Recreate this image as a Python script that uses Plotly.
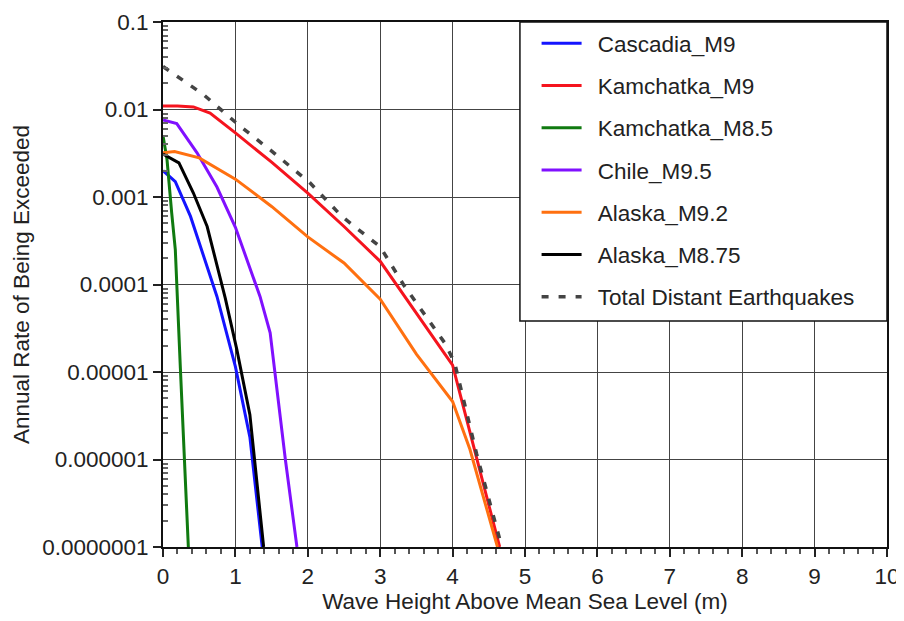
import plotly.graph_objects as go
import numpy as np

# ---- data ----
cascadia_x = [0, 0.17, 0.38, 0.56, 0.745, 1.0, 1.2, 1.37]
cascadia_y = [0.002, 0.0015, 6e-4, 2.1e-4, 7.3e-5, 1.15e-5, 1.8e-6, 1e-7]

kam9_x = [0, 0.2, 0.42, 0.65, 1.0, 1.5, 2.0, 2.5, 3.0, 4.0, 4.65]
kam9_y = [0.011, 0.011, 0.0107, 0.0091, 0.0054, 0.0025, 0.00111, 4.6e-4, 1.84e-4, 1.2e-5, 1e-7]

kam85_x = [0, 0.055, 0.12, 0.17, 0.24, 0.35]
kam85_y = [0.005, 0.0027, 6.6e-4, 2.5e-4, 1.1e-5, 1e-7]

chile_x = [0, 0.19, 0.47, 0.745, 1.0, 1.34, 1.48, 1.69, 1.85]
chile_y = [0.0076, 0.0069, 0.0032, 0.0013, 4.5e-4, 7.3e-5, 2.8e-5, 1e-6, 1e-7]

ak92_x = [0, 0.16, 0.5, 1.0, 1.5, 2.0, 2.5, 3.0, 3.5, 4.0, 4.24, 4.62]
ak92_y = [0.0032, 0.0033, 0.0028, 0.0016, 7.8e-4, 3.5e-4, 1.76e-4, 6.8e-5, 1.6e-5, 4.6e-6, 1.3e-6, 1e-7]

ak875_x = [0, 0.22, 0.42, 0.61, 0.86, 1.02, 1.2, 1.39]
ak875_y = [0.0031, 0.00245, 0.00111, 4.6e-4, 7.0e-5, 1.8e-5, 3.25e-6, 1e-7]

total_x = [0, 0.56, 1.04, 1.53, 2.03, 2.47, 3.0, 3.32, 3.9, 4.03, 4.33, 4.68]
total_y = [0.031, 0.0148, 0.0067, 0.0032, 0.00145, 6e-4, 2.7e-4, 1e-4, 2.1e-5, 1.26e-5, 1.17e-6, 1e-7]

series_names = ["Cascadia_M9", "Kamchatka_M9", "Kamchatka_M8.5", "Chile_M9.5",
                "Alaska_M9.2", "Alaska_M8.75", "Total Distant Earthquakes"]

y_tickvals = [1e-1, 1e-2, 1e-3, 1e-4, 1e-5, 1e-6, 1e-7]
y_ticktext = ["0.1", "0.01", "0.001", "0.0001", "0.00001", "0.000001", "0.0000001"]
x_tickvals = list(range(0, 11))

xs_all = [cascadia_x, kam9_x, kam85_x, chile_x, ak92_x, ak875_x, total_x]
ys_all = [cascadia_y, kam9_y, kam85_y, chile_y, ak92_y, ak875_y, total_y]
colors = ["#1414ff", "#f5141e", "#107a10", "#8010ff", "#ff7010", "#000000", "#444444"]
dashes = ["solid"] * 6 + ["7px,10px"]
widths = [3] * 6 + [3.5]

FONT = "Liberation Sans, Arial, sans-serif"
FS = 22.5

fig = go.Figure()
for name, xs, ys, col, dash, w in zip(series_names, xs_all, ys_all, colors, dashes, widths):
    fig.add_trace(go.Scatter(x=xs, y=ys, mode="lines", name="\u2002" + name,
                             legendgroup=name,
                             line=dict(color=col, width=w, dash=dash)))

minor_y = [m * 10.0 ** k for k in range(-7, -1) for m in range(2, 10)]

# legend frame (white box with border) drawn behind the legend entries
fig.add_shape(type="rect", xref="paper", yref="paper",
              x0=0.493, x1=1.0, y0=0.4305, y1=1.0,
              fillcolor="white", line=dict(color="#111111", width=1.5), layer="above")

# page body has an 8px margin, so the figure is sized/margined to land where the reference is
fig.update_layout(
    width=896, height=613,
    margin=dict(l=155, r=17, t=14, b=74),
    paper_bgcolor="white", plot_bgcolor="white",
    font=dict(family=FONT, size=FS, color="#222222"),
    legend=dict(x=0.516, y=1.0, xanchor="left", yanchor="top",
                bgcolor="rgba(0,0,0,0)", borderwidth=0,
                font=dict(size=FS), tracegroupgap=10, itemwidth=40),
    showlegend=True,
)
fig.update_xaxes(
    range=[0, 10], tickvals=x_tickvals, ticks="outside", ticklen=8, tickwidth=1.5,
    tickcolor="#222", showgrid=True, gridcolor="#444444", gridwidth=1.3,
    showline=True, linecolor="#111111", linewidth=2, mirror=True, zeroline=False,
    minor=dict(dtick=0.2, ticks="outside", ticklen=5, tickcolor="#555", showgrid=False),
    title=dict(text="Wave Height Above Mean Sea Level (m)", standoff=4, font=dict(size=FS)),
    tickfont=dict(size=FS), automargin=False,
)
fig.update_yaxes(
    type="log", range=[-7, -1], tickvals=y_tickvals, ticktext=y_ticktext,
    ticks="outside", ticklen=8, tickwidth=1.5, tickcolor="#222",
    showgrid=True, gridcolor="#444444", gridwidth=1.3,
    showline=True, linecolor="#111111", linewidth=2, mirror=True, zeroline=False,
    minor=dict(tickvals=minor_y, ticks="inside", ticklen=5, tickcolor="#666", showgrid=False),
    title=dict(text="Annual Rate of Being Exceeded", standoff=6, font=dict(size=FS)),
    tickfont=dict(size=FS), automargin=False,
)

fig.write_html("out.html")
